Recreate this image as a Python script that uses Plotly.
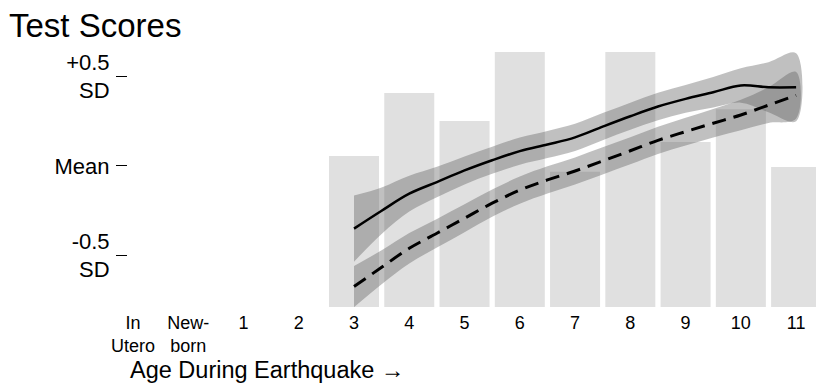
import plotly.graph_objects as go

# Tick labels (categories along the x axis); In Utero = -1, Newborn = 0
tick_vals = [-1, 0, 1, 2, 3, 4, 5, 6, 7, 8, 9, 10, 11]
tick_text = ["In<br>Utero", "New-<br>born", "1", "2", "3", "4", "5", "6", "7", "8", "9", "10", "11"]

# Background bars (relative share of sample by age)
bar_ages = [3, 4, 5, 6, 7, 8, 9, 10, 11]
bar_vals = [0.592, 0.839, 0.729, 1.0, 0.53, 1.0, 0.647, 0.776, 0.549]

# Smoothed test score curves (in SD units)
curve_ages = [3, 3.5, 4, 4.5, 5, 5.5, 6, 6.5, 7, 7.5, 8, 8.5, 9, 9.5, 10, 10.5, 11]
solid_vals = [-0.35, -0.25, -0.155, -0.09, -0.025, 0.032, 0.083, 0.12, 0.16,
              0.22, 0.278, 0.332, 0.375, 0.412, 0.45, 0.44, 0.44]
solid_ci = [0.185, 0.13, 0.1, 0.085, 0.078, 0.076, 0.076, 0.076, 0.076,
            0.076, 0.076, 0.077, 0.078, 0.085, 0.096, 0.14, 0.19]
dashed_vals = [-0.674, -0.566, -0.46, -0.376, -0.292, -0.208, -0.135, -0.078, -0.028,
               0.028, 0.085, 0.143, 0.192, 0.239, 0.285, 0.34, 0.395]
dashed_ci = [0.115, 0.095, 0.085, 0.08, 0.078, 0.076, 0.076, 0.076, 0.076,
             0.076, 0.076, 0.076, 0.078, 0.08, 0.085, 0.1, 0.13]

y_tick_vals = [-0.5, 0, 0.5]
y_tick_text = ["-0.5<br>SD", "Mean", "+0.5<br>SD"]

BAND = "rgba(90,90,90,0.38)"
FONT = "Liberation Sans, Arial, Helvetica, sans-serif"

fig = go.Figure()

# bars on the primary (hidden) y axis so they sit beneath the curves
fig.add_trace(go.Bar(
    x=bar_ages, y=bar_vals, yaxis="y",
    marker=dict(color="#e0e0e0", line=dict(width=0)),
    hoverinfo="skip", showlegend=False,
))


def band(vals, ci):
    upper = [v + c for v, c in zip(vals, ci)]
    lower = [v - c for v, c in zip(vals, ci)]
    return go.Scatter(
        x=curve_ages + curve_ages[::-1],
        y=upper + lower[::-1], yaxis="y2",
        fill="toself", fillcolor=BAND, line=dict(width=0),
        mode="lines", line_shape="spline",
        hoverinfo="skip", showlegend=False,
    )


fig.add_trace(band(solid_vals, solid_ci))
fig.add_trace(band(dashed_vals, dashed_ci))

fig.add_trace(go.Scatter(
    x=curve_ages, y=solid_vals, yaxis="y2", mode="lines", line_shape="spline",
    line=dict(color="black", width=2.5), showlegend=False,
))
fig.add_trace(go.Scatter(
    x=curve_ages, y=dashed_vals, yaxis="y2", mode="lines", line_shape="spline",
    line=dict(color="black", width=3, dash="14px,8px"), showlegend=False,
))

fig.update_layout(
    width=816, height=385,
    margin=dict(l=128, r=0, t=45, b=78, autoexpand=False),
    paper_bgcolor="white", plot_bgcolor="white",
    font=dict(family=FONT, color="black"),
    bargap=0.095,
    title=dict(text="Test Scores", x=9 / 816, xanchor="left", xref="container",
               y=1 - 25 / 385, yanchor="middle", yref="container",
               font=dict(size=33, color="black", family=FONT)),
    xaxis=dict(
        range=[-1.09, 11.36], tickvals=tick_vals, ticktext=tick_text,
        showgrid=False, zeroline=False, showline=False, ticks="",
        tickfont=dict(size=18), ticklabelstandoff=3, automargin=False,
    ),
    yaxis=dict(
        range=[0, 1.0275], visible=False, automargin=False,
    ),
    yaxis2=dict(
        range=[-0.788, 0.676], tickvals=y_tick_vals, ticktext=y_tick_text,
        overlaying="y", side="left",
        showgrid=False, zeroline=False, showline=False,
        ticks="outside", ticklen=11, tickcolor="black", tickwidth=1,
        tickfont=dict(size=22), ticklabelstandoff=2, automargin=False,
    ),
    annotations=[dict(
        text="Age During Earthquake \u2192", xref="paper", yref="paper",
        x=(128 - 128) / 688, y=-(370 - 307) / 262, xanchor="left", yanchor="middle",
        showarrow=False, font=dict(size=23.5, color="black"),
    )],
)

fig.write_html("out.html", config={"displayModeBar": False},
               post_script="document.body.style.margin='0';")
